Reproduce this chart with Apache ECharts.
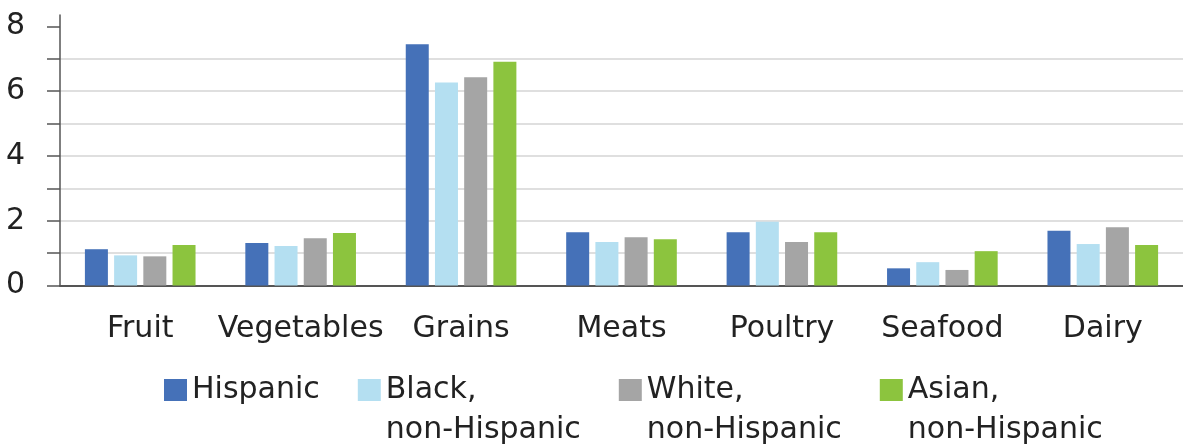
<!DOCTYPE html>
<html>
<head>
<meta charset="utf-8">
<script src="https://cdn.jsdelivr.net/npm/echarts@6/dist/echarts.min.js"></script>
<style>html,body{margin:0;padding:0;background:#fff;}#c{width:1183px;height:446px;}</style>
</head>
<body>
<div id="c"></div>
<script>
const categories = ['Fruit', 'Vegetables', 'Grains', 'Meats', 'Poultry', 'Seafood', 'Dairy'];
const seriesNames = ['Hispanic', 'Black,\nnon-Hispanic', 'White,\nnon-Hispanic', 'Asian,\nnon-Hispanic'];
const hispanic = [1.12, 1.31, 7.45, 1.64, 1.64, 0.53, 1.69];
const black = [0.93, 1.22, 6.27, 1.34, 1.97, 0.72, 1.28];
const white = [0.90, 1.46, 6.43, 1.49, 1.34, 0.48, 1.80];
const asian = [1.25, 1.62, 6.91, 1.43, 1.64, 1.06, 1.25];
const yTickValues = [0, 1, 2, 3, 4, 5, 6, 7, 8];
const yLabelValues = [0, 2, 4, 6, 8];
const colors = ['#4571b8', '#b4dff1', '#a5a5a5', '#8cc43e'];

const FONT = '"DejaVu Sans", sans-serif';
const chart = echarts.init(document.getElementById('c'), null, {renderer: 'canvas'});
const values = [hispanic, black, white, asian];
chart.setOption({
  animation: false,
  color: colors,
  grid: {left: 60, right: -11, top: 15, bottom: 160.5, containLabel: false},
  legend: {
    left: 164,
    top: 330,
    padding: 0,
    itemWidth: 23,
    itemHeight: 22,
    itemGap: 38,
    icon: 'rect',
    formatter: function (name) { return name.indexOf('\n') >= 0 ? '\n' + name : name; },
    textStyle: {fontFamily: FONT, fontSize: 30, color: '#222', lineHeight: 40},
    data: seriesNames
  },
  xAxis: {
    type: 'category',
    data: categories,
    axisLine: {lineStyle: {color: '#555', width: 2}},
    axisTick: {show: false},
    axisLabel: {fontFamily: FONT, fontSize: 30, color: '#222', margin: 29, interval: 0}
  },
  yAxis: {
    type: 'value',
    min: 0,
    max: 8.35,
    interval: 1,
    axisLine: {show: true, lineStyle: {color: '#555', width: 1.5}},
    axisTick: {show: true, length: 13, lineStyle: {color: '#555', width: 1.5}, customValues: yTickValues},
    axisLabel: {fontFamily: FONT, fontSize: 30, color: '#222', margin: 35, padding: [6, 0, 0, 0], customValues: yLabelValues},
    splitLine: {show: true, showMaxLine: false, lineStyle: {color: '#d4d4d4', width: 1.5}}
  },
  series: values.map(function (v, i) {
    return {
      name: seriesNames[i],
      type: 'bar',
      data: v,
      barWidth: 23,
      barGap: '27%',
      itemStyle: {color: colors[i]}
    };
  })
});
</script>
</body>
</html>
